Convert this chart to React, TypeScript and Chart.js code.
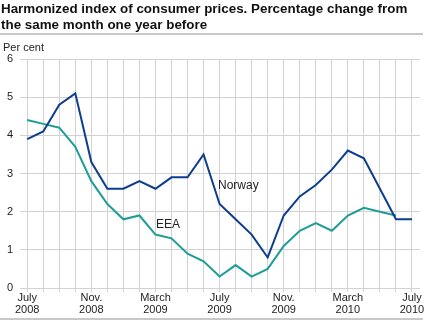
import React, { useEffect, useRef } from "react";
import { Chart, registerables } from "chart.js";

Chart.register(...registerables);

const months = [
  "July 2008", "Aug 2008", "Sep 2008", "Oct 2008", "Nov. 2008", "Dec 2008",
  "Jan 2009", "Feb 2009", "March 2009", "Apr 2009", "May 2009", "June 2009",
  "July 2009", "Aug 2009", "Sep 2009", "Oct 2009", "Nov. 2009", "Dec 2009",
  "Jan 2010", "Feb 2010", "March 2010", "Apr 2010", "May 2010", "June 2010", "July 2010",
];
const tickLabels: Record<number, string[]> = {
  0: ["July", "2008"],
  4: ["Nov.", "2008"],
  8: ["March", "2009"],
  12: ["July", "2009"],
  16: ["Nov.", "2009"],
  20: ["March", "2010"],
  24: ["July", "2010"],
};
const norway = [3.9, 4.1, 4.8, 5.1, 3.3, 2.6, 2.6, 2.8, 2.6, 2.9, 2.9, 3.5, 2.2, 1.8, 1.4, 0.8, 1.9, 2.4, 2.7, 3.1, 3.6, 3.4, 2.6, 1.8, 1.8];
const eea = [4.4, 4.3, 4.2, 3.7, 2.8, 2.2, 1.8, 1.9, 1.4, 1.3, 0.9, 0.7, 0.3, 0.6, 0.3, 0.5, 1.1, 1.5, 1.7, 1.5, 1.9, 2.1, 2.0, 1.9];
const seriesNames = ["Norway", "EEA"];

const FONT = "Arial, 'Liberation Sans', sans-serif";

const labelPlugin = {
  id: "seriesLabels",
  afterDatasetsDraw(chart: any) {
    const { ctx, scales } = chart;
    const x = scales.x;
    const y = scales.y;
    const items = [
      { text: seriesNames[0], xi: 11.9, yv: 2.67 },
      { text: seriesNames[1], xi: 8.04, yv: 1.65 },
    ];
    ctx.save();
    ctx.font = `12px ${FONT}`;
    ctx.fillStyle = "#222";
    ctx.textAlign = "left";
    ctx.textBaseline = "middle";
    for (const it of items) {
      ctx.fillText(it.text, x.getPixelForValue(it.xi), y.getPixelForValue(it.yv));
    }
    ctx.restore();
  },
};

export default function App() {
  const ref = useRef<HTMLCanvasElement>(null);
  useEffect(() => {
    document.body.style.margin = "0";
    const chart = new Chart(ref.current!, {
      type: "line",
      data: {
        datasets: [
          {
            label: seriesNames[0],
            data: norway.map((v, i) => ({ x: i, y: v })),
            borderColor: "#0e3d8e",
            borderWidth: 2,
            pointRadius: 0,
            tension: 0,
          },
          {
            label: seriesNames[1],
            data: eea.map((v, i) => ({ x: i, y: v })),
            borderColor: "#1e9d97",
            borderWidth: 2,
            pointRadius: 0,
            tension: 0,
          },
        ],
      },
      options: {
        animation: false,
        responsive: false,
        maintainAspectRatio: false,
        layout: { padding: { top: 59, right: 6, left: 0, bottom: 0 } },
        plugins: { legend: { display: false }, tooltip: { enabled: false }, title: { display: false } },
        scales: {
          x: {
            type: "linear",
            min: -0.45,
            max: 24.5,
            afterFit: (s: any) => { s.height = 38; },
            afterBuildTicks: (s: any) => {
              s.ticks = months.map((_, i) => ({ value: i }));
            },
            border: { display: false },
            grid: {
              color: "#d2d2d2",
              lineWidth: 1,
              tickLength: 4,
              drawTicks: true,
            },
            ticks: {
              stepSize: 1,
              autoSkip: false,
              maxRotation: 0,
              padding: 0,
              color: "#222",
              font: { family: FONT, size: 11, lineHeight: 1.1 },
              callback: (v: any) => tickLabels[v as number] ?? "",
            },
          },
          y: {
            min: 0,
            max: 6,
            afterFit: (s: any) => { s.width = 20; },
            border: { display: false },
            grid: { color: "#d2d2d2", lineWidth: 1, drawTicks: false },
            ticks: {
              stepSize: 1,
              padding: 7,
              color: "#222",
              font: { family: FONT, size: 11 },
            },
          },
        },
      },
      plugins: [labelPlugin],
    });
    return () => chart.destroy();
  }, []);

  return (
    <div style={{ position: "relative", width: 426, height: 326, fontFamily: FONT, color: "#222" }}>
      <canvas ref={ref} width={426} height={326} style={{ position: "absolute", left: 0, top: 0 }} />
      <div style={{ position: "absolute", left: 1, top: 1, fontWeight: "bold", fontSize: 13.4, lineHeight: "16px", color: "#111", width: 425, whiteSpace: "nowrap" }}>
        Harmonized index of consumer prices. Percentage change from
        <br />
        the same month one year before
      </div>
      <div style={{ position: "absolute", left: 0, top: 33, width: 423, height: 2, background: "#c8c8c8" }} />
      <div style={{ position: "absolute", left: 3, top: 41, fontSize: 11 }}>Per cent</div>
      <div style={{ position: "absolute", left: 0, top: 318, width: 423, height: 2, background: "#c8c8c8" }} />
    </div>
  );
}
